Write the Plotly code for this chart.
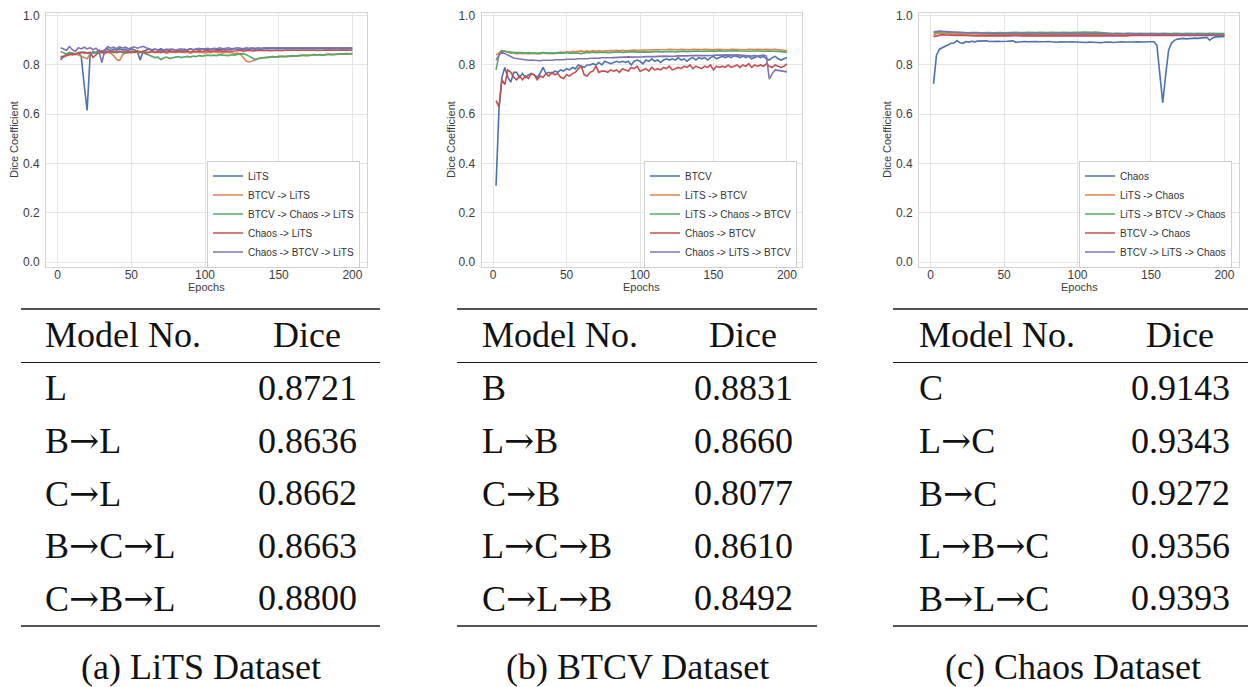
import plotly.graph_objects as go

W, H = 1248, 687

# ---------------- data ----------------
epochs = list(range(2, 201, 2))

# (a) LiTS
lits_names = ["LiTS", "BTCV -> LiTS", "BTCV -> Chaos -> LiTS", "Chaos -> LiTS", "Chaos -> BTCV -> LiTS"]
lits_L = [0.820,0.835,0.845,0.850,0.848,0.843,0.850,0.835,0.720,0.615,
          0.835,0.855,0.850,0.860,0.855,0.862,0.865,0.858,0.864,0.860,
          0.866,0.860,0.864,0.858,0.866,0.860,0.856,0.820,0.855,0.860,
          0.865,0.858,0.864,0.860,0.866,0.860,0.864,0.858,0.864,0.860,
          0.862,0.858,0.864,0.860,0.866,0.862,0.864,0.860,0.866,0.862,
          0.864,0.862,0.866,0.862,0.864,0.862,0.866,0.864,0.862,0.866,
          0.864,0.866,0.862,0.866,0.864,0.866,0.864,0.866,0.864,0.866,
          0.866,0.864,0.866,0.864,0.866,0.866,0.864,0.866,0.866,0.864,
          0.866,0.866,0.864,0.866,0.866,0.864,0.866,0.866,0.864,0.866,
          0.866,0.864,0.866,0.866,0.866,0.864,0.866,0.866,0.866,0.866]
lits_BL = [0.830,0.835,0.840,0.845,0.840,0.845,0.840,0.835,0.830,0.825,
           0.845,0.850,0.850,0.848,0.850,0.845,0.852,0.848,0.838,0.822,
           0.818,0.840,0.850,0.852,0.848,0.855,0.852,0.850,0.855,0.852,
           0.850,0.854,0.852,0.850,0.855,0.852,0.848,0.852,0.855,0.850,
           0.852,0.855,0.850,0.852,0.848,0.852,0.855,0.850,0.852,0.848,
           0.852,0.850,0.855,0.850,0.852,0.848,0.852,0.850,0.852,0.845,
           0.848,0.845,0.830,0.815,0.812,0.815,0.820,0.825,0.828,0.830,
           0.830,0.832,0.834,0.832,0.835,0.834,0.836,0.835,0.835,0.836,
           0.838,0.836,0.838,0.840,0.838,0.840,0.842,0.840,0.842,0.840,
           0.842,0.844,0.842,0.844,0.843,0.845,0.844,0.845,0.846,0.846]
lits_BCL = [0.855,0.850,0.845,0.850,0.848,0.845,0.850,0.852,0.848,0.850,
            0.845,0.850,0.848,0.855,0.850,0.858,0.852,0.855,0.850,0.852,
            0.855,0.850,0.848,0.852,0.855,0.850,0.852,0.855,0.850,0.845,
            0.840,0.835,0.830,0.832,0.822,0.828,0.832,0.826,0.830,0.832,
            0.834,0.830,0.833,0.835,0.832,0.836,0.834,0.838,0.836,0.838,
            0.840,0.838,0.840,0.838,0.842,0.840,0.840,0.838,0.842,0.840,
            0.843,0.845,0.846,0.842,0.835,0.826,0.822,0.826,0.828,0.830,
            0.830,0.832,0.834,0.832,0.834,0.836,0.834,0.836,0.835,0.838,
            0.836,0.838,0.840,0.838,0.838,0.840,0.842,0.840,0.842,0.840,
            0.842,0.844,0.842,0.843,0.845,0.844,0.845,0.846,0.845,0.846]
lits_CL = [0.835,0.832,0.838,0.840,0.845,0.842,0.848,0.850,0.852,0.848,
           0.852,0.830,0.840,0.852,0.855,0.850,0.856,0.852,0.855,0.850,
           0.855,0.852,0.856,0.850,0.855,0.852,0.856,0.852,0.855,0.848,
           0.852,0.856,0.850,0.854,0.850,0.855,0.852,0.856,0.852,0.854,
           0.856,0.852,0.855,0.857,0.853,0.856,0.854,0.857,0.855,0.856,
           0.858,0.855,0.857,0.856,0.858,0.855,0.858,0.856,0.858,0.857,
           0.858,0.860,0.856,0.858,0.860,0.857,0.859,0.858,0.860,0.858,
           0.860,0.858,0.860,0.859,0.860,0.858,0.860,0.859,0.860,0.860,
           0.860,0.859,0.861,0.860,0.860,0.861,0.860,0.859,0.861,0.860,
           0.861,0.860,0.860,0.861,0.860,0.861,0.860,0.861,0.860,0.860]
lits_CBL = [0.870,0.865,0.860,0.875,0.862,0.855,0.870,0.865,0.872,0.865,
            0.870,0.862,0.868,0.855,0.810,0.860,0.875,0.868,0.872,0.866,
            0.874,0.868,0.872,0.866,0.870,0.874,0.868,0.872,0.876,0.870,
            0.866,0.862,0.865,0.860,0.858,0.862,0.860,0.865,0.862,0.860,
            0.864,0.866,0.860,0.864,0.866,0.862,0.866,0.868,0.864,0.866,
            0.868,0.864,0.868,0.866,0.870,0.866,0.868,0.870,0.866,0.868,
            0.870,0.868,0.866,0.870,0.868,0.870,0.868,0.870,0.868,0.870,
            0.870,0.868,0.870,0.868,0.870,0.870,0.868,0.870,0.868,0.870,
            0.870,0.868,0.870,0.870,0.868,0.870,0.870,0.868,0.870,0.870,
            0.870,0.868,0.870,0.870,0.870,0.868,0.870,0.870,0.870,0.870]

# (b) BTCV
btcv_names = ["BTCV", "LiTS -> BTCV", "LiTS -> Chaos -> BTCV", "Chaos -> BTCV", "Chaos -> LiTS -> BTCV"]
btcv_B = [0.310,0.620,0.750,0.790,0.750,0.730,0.770,0.770,0.750,0.765,
          0.750,0.760,0.765,0.760,0.750,0.765,0.790,0.765,0.770,0.765,
          0.775,0.770,0.780,0.775,0.785,0.780,0.790,0.785,0.800,0.795,
          0.790,0.800,0.800,0.805,0.800,0.810,0.800,0.815,0.810,0.805,
          0.810,0.815,0.810,0.815,0.810,0.815,0.800,0.815,0.820,0.815,
          0.805,0.820,0.815,0.825,0.815,0.820,0.810,0.820,0.825,0.820,
          0.825,0.820,0.830,0.820,0.825,0.815,0.825,0.830,0.820,0.830,
          0.825,0.830,0.820,0.830,0.835,0.825,0.830,0.835,0.830,0.835,
          0.830,0.838,0.835,0.830,0.836,0.830,0.835,0.825,0.830,0.835,
          0.830,0.835,0.825,0.820,0.830,0.835,0.825,0.820,0.825,0.830]
btcv_LB = [0.840,0.850,0.858,0.855,0.850,0.848,0.850,0.845,0.848,0.846,
           0.848,0.845,0.848,0.846,0.848,0.845,0.850,0.848,0.846,0.850,
           0.848,0.850,0.852,0.850,0.853,0.852,0.855,0.853,0.855,0.857,
           0.855,0.857,0.855,0.858,0.856,0.858,0.856,0.858,0.857,0.859,
           0.858,0.860,0.858,0.860,0.858,0.860,0.859,0.861,0.860,0.860,
           0.861,0.860,0.862,0.860,0.862,0.861,0.863,0.862,0.863,0.864,
           0.863,0.864,0.862,0.864,0.863,0.864,0.862,0.864,0.863,0.864,
           0.863,0.864,0.863,0.864,0.862,0.864,0.863,0.864,0.863,0.862,
           0.864,0.863,0.862,0.864,0.863,0.862,0.864,0.862,0.863,0.864,
           0.862,0.863,0.864,0.862,0.863,0.864,0.862,0.860,0.860,0.858]
btcv_LCB = [0.780,0.840,0.858,0.855,0.853,0.852,0.850,0.851,0.849,0.850,
            0.848,0.850,0.847,0.849,0.846,0.848,0.850,0.847,0.849,0.846,
            0.848,0.847,0.849,0.848,0.850,0.848,0.849,0.850,0.848,0.846,
            0.849,0.851,0.850,0.852,0.850,0.851,0.849,0.852,0.850,0.851,
            0.852,0.850,0.853,0.851,0.852,0.850,0.852,0.854,0.852,0.853,
            0.855,0.853,0.852,0.854,0.853,0.855,0.853,0.854,0.852,0.854,
            0.855,0.853,0.855,0.854,0.856,0.854,0.855,0.856,0.855,0.857,
            0.855,0.856,0.857,0.855,0.857,0.856,0.858,0.856,0.857,0.858,
            0.856,0.857,0.858,0.857,0.856,0.858,0.857,0.856,0.857,0.858,
            0.857,0.856,0.858,0.857,0.856,0.857,0.855,0.854,0.853,0.852]
btcv_CB = [0.655,0.630,0.740,0.720,0.780,0.770,0.750,0.740,0.755,0.740,
           0.755,0.745,0.765,0.760,0.740,0.755,0.750,0.765,0.755,0.770,
           0.760,0.765,0.750,0.745,0.760,0.755,0.765,0.770,0.785,0.795,
           0.760,0.755,0.770,0.775,0.795,0.770,0.775,0.775,0.770,0.780,
           0.775,0.780,0.770,0.785,0.780,0.775,0.790,0.785,0.795,0.775,
           0.780,0.785,0.775,0.790,0.780,0.785,0.780,0.790,0.785,0.795,
           0.780,0.785,0.790,0.785,0.795,0.790,0.800,0.785,0.795,0.790,
           0.785,0.795,0.790,0.800,0.780,0.795,0.790,0.795,0.790,0.800,
           0.790,0.795,0.800,0.790,0.800,0.795,0.805,0.790,0.800,0.795,
           0.800,0.795,0.805,0.795,0.790,0.800,0.795,0.790,0.795,0.805]
btcv_CLB = [0.820,0.840,0.852,0.846,0.838,0.832,0.828,0.826,0.824,0.822,
            0.821,0.819,0.820,0.818,0.819,0.817,0.819,0.818,0.820,0.819,
            0.821,0.820,0.822,0.821,0.823,0.822,0.824,0.823,0.825,0.824,
            0.826,0.825,0.827,0.826,0.828,0.827,0.829,0.828,0.830,0.829,
            0.830,0.831,0.830,0.832,0.831,0.833,0.832,0.833,0.832,0.834,
            0.833,0.834,0.833,0.835,0.834,0.835,0.836,0.835,0.836,0.835,
            0.837,0.836,0.837,0.836,0.838,0.837,0.838,0.837,0.839,0.838,
            0.838,0.839,0.838,0.840,0.839,0.840,0.839,0.840,0.841,0.840,
            0.841,0.840,0.841,0.840,0.839,0.838,0.837,0.836,0.838,0.836,
            0.838,0.840,0.836,0.742,0.765,0.780,0.778,0.776,0.774,0.772]

# (c) Chaos
chaos_names = ["Chaos", "LiTS -> Chaos", "LiTS -> BTCV -> Chaos", "BTCV -> Chaos", "BTCV -> LiTS -> Chaos"]
chaos_C = [0.723,0.840,0.864,0.870,0.877,0.882,0.888,0.889,0.899,0.890,
           0.888,0.895,0.893,0.896,0.894,0.897,0.898,0.900,0.898,0.895,
           0.896,0.894,0.896,0.895,0.894,0.896,0.897,0.898,0.892,0.894,
           0.896,0.895,0.894,0.895,0.893,0.895,0.894,0.893,0.894,0.895,
           0.893,0.894,0.892,0.894,0.893,0.892,0.893,0.894,0.893,0.892,
           0.893,0.892,0.891,0.893,0.892,0.894,0.893,0.890,0.892,0.894,
           0.893,0.891,0.893,0.892,0.894,0.893,0.892,0.894,0.893,0.894,
           0.893,0.894,0.893,0.894,0.893,0.894,0.880,0.760,0.647,0.760,
           0.860,0.889,0.900,0.905,0.907,0.908,0.906,0.908,0.907,0.909,
           0.908,0.910,0.909,0.912,0.901,0.910,0.914,0.916,0.915,0.916]
chaos_LC = [0.922,0.928,0.930,0.929,0.928,0.927,0.928,0.926,0.927,0.926,
            0.926,0.925,0.926,0.927,0.925,0.926,0.925,0.926,0.925,0.926,
            0.925,0.926,0.925,0.924,0.925,0.926,0.925,0.924,0.925,0.926,
            0.925,0.924,0.925,0.926,0.925,0.924,0.925,0.926,0.925,0.924,
            0.925,0.926,0.925,0.924,0.925,0.926,0.925,0.924,0.925,0.925,
            0.926,0.925,0.924,0.925,0.926,0.925,0.924,0.925,0.926,0.925,
            0.924,0.925,0.926,0.925,0.924,0.925,0.926,0.925,0.924,0.925,
            0.925,0.924,0.925,0.926,0.925,0.924,0.925,0.926,0.925,0.924,
            0.925,0.924,0.925,0.926,0.925,0.924,0.925,0.926,0.925,0.924,
            0.925,0.924,0.925,0.926,0.925,0.924,0.925,0.926,0.925,0.925]
chaos_LBC = [0.930,0.934,0.935,0.934,0.933,0.934,0.933,0.932,0.933,0.932,
             0.933,0.932,0.931,0.932,0.933,0.932,0.931,0.932,0.931,0.932,
             0.931,0.932,0.931,0.932,0.931,0.932,0.931,0.932,0.933,0.932,
             0.931,0.932,0.933,0.932,0.931,0.932,0.933,0.932,0.933,0.932,
             0.933,0.932,0.933,0.932,0.933,0.932,0.933,0.932,0.933,0.932,
             0.933,0.934,0.933,0.932,0.933,0.934,0.933,0.932,0.929,0.928,
             0.929,0.928,0.929,0.928,0.929,0.928,0.929,0.928,0.929,0.928,
             0.929,0.928,0.929,0.928,0.929,0.928,0.929,0.928,0.929,0.928,
             0.929,0.928,0.929,0.928,0.929,0.928,0.929,0.928,0.929,0.928,
             0.929,0.928,0.929,0.928,0.929,0.928,0.929,0.928,0.928,0.928]
chaos_BC = [0.915,0.918,0.922,0.923,0.922,0.921,0.922,0.921,0.920,0.921,
            0.920,0.919,0.920,0.919,0.918,0.919,0.918,0.919,0.918,0.919,
            0.918,0.919,0.918,0.919,0.918,0.919,0.918,0.919,0.918,0.919,
            0.918,0.919,0.918,0.919,0.918,0.919,0.918,0.919,0.918,0.919,
            0.918,0.919,0.918,0.919,0.918,0.919,0.918,0.919,0.918,0.919,
            0.918,0.919,0.918,0.919,0.918,0.919,0.918,0.919,0.918,0.919,
            0.918,0.919,0.918,0.919,0.918,0.919,0.918,0.920,0.921,0.920,
            0.921,0.920,0.921,0.920,0.921,0.920,0.921,0.920,0.921,0.920,
            0.921,0.920,0.921,0.920,0.921,0.920,0.921,0.920,0.921,0.920,
            0.921,0.920,0.921,0.920,0.921,0.920,0.921,0.921,0.921,0.921]
chaos_BLC = [0.935,0.937,0.938,0.937,0.936,0.935,0.934,0.933,0.932,0.931,
             0.930,0.929,0.930,0.929,0.930,0.932,0.931,0.929,0.928,0.929,
             0.928,0.927,0.928,0.927,0.928,0.927,0.928,0.927,0.928,0.927,
             0.928,0.927,0.928,0.927,0.928,0.927,0.928,0.927,0.928,0.927,
             0.928,0.927,0.928,0.927,0.928,0.927,0.928,0.927,0.928,0.927,
             0.928,0.927,0.928,0.927,0.928,0.927,0.928,0.927,0.928,0.927,
             0.928,0.927,0.928,0.927,0.928,0.927,0.928,0.927,0.928,0.927,
             0.927,0.926,0.927,0.926,0.927,0.926,0.927,0.926,0.927,0.926,
             0.926,0.925,0.926,0.925,0.926,0.925,0.926,0.925,0.926,0.925,
             0.925,0.924,0.925,0.924,0.925,0.924,0.925,0.924,0.925,0.924]

# tables
lits_models = ["L", "B→L", "C→L", "B→C→L", "C→B→L"]
lits_dice = [0.8721, 0.8636, 0.8662, 0.8663, 0.8800]
btcv_models = ["B", "L→B", "C→B", "L→C→B", "C→L→B"]
btcv_dice = [0.8831, 0.8660, 0.8077, 0.8610, 0.8492]
chaos_models = ["C", "L→C", "B→C", "L→B→C", "B→L→C"]
chaos_dice = [0.9143, 0.9343, 0.9272, 0.9356, 0.9393]
captions = ["(a) LiTS Dataset", "(b) BTCV Dataset", "(c) Chaos Dataset"]
header = ["Model No.", "Dice"]

x_ticks = [0, 50, 100, 150, 200]
y_ticks = [0.0, 0.2, 0.4, 0.6, 0.8, 1.0]

# ---------------- styling / layout ----------------
colors = ["#4C72B0", "#DD8452", "#55A868", "#C44E52", "#8172B3"]
GRID = "#e6e6e6"
FRAME = "#d4d4d4"
TICKC = "#3c3c3c"
SANS = "Liberation Sans"
SERIF = "Liberation Serif"
ARROW = '<span style="font-family:DejaVu Serif">→</span>'

def px(x):
    return x / W

def py(y):
    return 1 - y / H

panels = [
    dict(names=lits_names, series=[lits_L, lits_BL, lits_BCL, lits_CL, lits_CBL],
         frame=(46, 367), ylab_x=14, leg_right=360,
         models=lits_models, dice=lits_dice, rule=(21, 380), col0=43, col1=307, cap_x=201),
    dict(names=btcv_names, series=[btcv_B, btcv_LB, btcv_LCB, btcv_CB, btcv_CLB],
         frame=(481.5, 801.5), ylab_x=451, leg_right=797,
         models=btcv_models, dice=btcv_dice, rule=(457, 817), col0=480, col1=743, cap_x=637),
    dict(names=chaos_names, series=[chaos_C, chaos_LC, chaos_LBC, chaos_BC, chaos_BLC],
         frame=(919, 1239), ylab_x=887, leg_right=1232,
         models=chaos_models, dice=chaos_dice, rule=(893, 1248), col0=917, col1=1180, cap_x=1073),
]

FRAME_TOP, FRAME_BOT = 13, 267
XRANGE = [-7.9, 209.9]
YRANGE = [-0.0203, 1.011]

fig = go.Figure()
annotations = []
shapes = []
layout_axes = {}

for i, p in enumerate(panels, start=1):
    sfx = "" if i == 1 else str(i)
    legname = "legend" if i == 1 else f"legend{i}"
    for name, ys, c in zip(p["names"], p["series"], colors):
        fig.add_trace(go.Scatter(
            x=epochs, y=ys, mode="lines", name=name,
            line=dict(color=c, width=1.6),
            xaxis=f"x{sfx}", yaxis=f"y{sfx}", legend=legname,
        ))
    x0, x1 = p["frame"]
    layout_axes[f"xaxis{sfx}"] = dict(
        domain=[px(x0), px(x1)], anchor=f"y{sfx}", range=XRANGE,
        tickvals=x_ticks, showgrid=True, gridcolor=GRID, gridwidth=1,
        showline=True, mirror=True, linecolor=FRAME, linewidth=1,
        zeroline=False, ticks="", ticklen=0, ticklabelstandoff=-3,
        tickfont=dict(family=SANS, size=12, color=TICKC),
    )
    layout_axes[f"yaxis{sfx}"] = dict(
        domain=[py(FRAME_BOT), py(FRAME_TOP)], anchor=f"x{sfx}", range=YRANGE,
        tickvals=y_ticks, tickformat=".1f", showgrid=True, gridcolor=GRID, gridwidth=1,
        showline=True, mirror=True, linecolor=FRAME, linewidth=1,
        zeroline=False, ticks="", ticklen=0, ticklabelstandoff=3,
        tickfont=dict(family=SANS, size=12, color=TICKC),
    )
    layout_axes[legname] = dict(
        x=px(p["leg_right"]), y=py(214), xanchor="right", yanchor="middle",
        xref="paper", yref="paper",
        bgcolor="rgba(255,255,255,0.9)", bordercolor="#cfcfcf", borderwidth=1,
        font=dict(family=SANS, size=10, color="#333333"),
        itemwidth=30, tracegroupgap=0,
    )
    # axis titles
    annotations.append(dict(
        text="Epochs", x=px((x0 + x1) / 2), y=py(287), xref="paper", yref="paper",
        showarrow=False, xanchor="center", yanchor="middle",
        font=dict(family=SANS, size=11, color=TICKC)))
    annotations.append(dict(
        text="Dice Coefficient", x=px(p["ylab_x"]), y=py((FRAME_TOP + FRAME_BOT) / 2),
        xref="paper", yref="paper", textangle=-90,
        showarrow=False, xanchor="center", yanchor="middle",
        font=dict(family=SANS, size=11, color=TICKC)))

    # table
    r0, r1 = p["rule"]
    top_rule, mid_rule, bot_rule = 309, 362.5, 626
    for yy, lw in [(top_rule, 1.6), (mid_rule, 1.1), (bot_rule, 1.6)]:
        shapes.append(dict(type="line", xref="paper", yref="paper",
                           x0=px(r0), x1=px(r1), y0=py(yy), y1=py(yy),
                           line=dict(color="#1a1a1a", width=lw)))
    tfont = dict(family=SERIF, size=36, color="#111111")
    annotations.append(dict(text=header[0], x=px(p["col0"]), y=py(335), xref="paper", yref="paper",
                            showarrow=False, xanchor="left", yanchor="middle", font=tfont))
    annotations.append(dict(text=header[1], x=px(p["col1"]), y=py(335), xref="paper", yref="paper",
                            showarrow=False, xanchor="center", yanchor="middle", font=tfont))
    row_first, row_pitch = 388, 52.5
    for k, (m, d) in enumerate(zip(p["models"], p["dice"])):
        yc = row_first + k * row_pitch
        annotations.append(dict(text=m.replace("→", ARROW), x=px(p["col0"]), y=py(yc),
                                xref="paper", yref="paper",
                                showarrow=False, xanchor="left", yanchor="middle", font=tfont))
        annotations.append(dict(text=f"{d:.4f}", x=px(p["col1"]), y=py(yc), xref="paper", yref="paper",
                                showarrow=False, xanchor="center", yanchor="middle", font=tfont))
    annotations.append(dict(text=captions[i - 1], x=px(p["cap_x"]), y=py(667), xref="paper", yref="paper",
                            showarrow=False, xanchor="center", yanchor="middle", font=tfont))

fig.update_layout(
    width=W, height=H, margin=dict(l=0, r=0, t=0, b=0, autoexpand=False),
    paper_bgcolor="white", plot_bgcolor="white",
    showlegend=True, annotations=annotations, shapes=shapes,
    **layout_axes,
)

fig.write_html("out.html", config={"displayModeBar": False},
               post_script="document.body.style.margin='0';document.body.style.overflow='hidden';")
